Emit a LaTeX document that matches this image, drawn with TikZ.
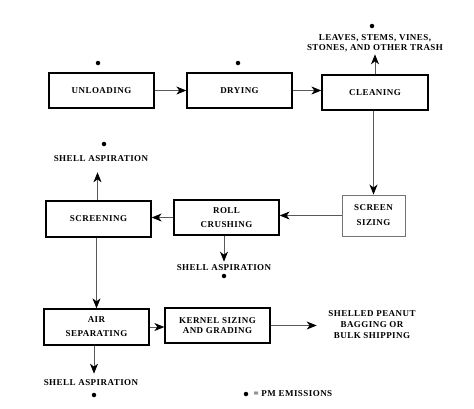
\documentclass[tikz,border=0pt]{standalone}
\usepackage{fontspec}
\setmainfont{Liberation Serif}
\newfontfamily\flowfont[LetterSpace=5]{Liberation Serif}
\usetikzlibrary{arrows.meta,positioning}
\tikzset{
  stepbox/.style={draw=black,line width=1.3pt,minimum width=105pt,minimum height=35pt,
    align=center,inner sep=1pt,font=\flowfont\fontsize{9}{13}\selectfont\bfseries},
  outtext/.style={align=center,inner sep=1pt,font=\flowfont\fontsize{9}{10}\selectfont\bfseries},
  pmdot/.style={circle,fill=black,inner sep=0pt,minimum size=4.5pt},
  flow/.style={draw=black!65,line width=0.8pt,-{Stealth[length=10pt,width=8pt,inset=3pt,black]}},
}
\begin{document}
\begin{tikzpicture}[x=1pt,y=-1pt]
  \useasboundingbox (0,0) rectangle (474,408);
  % process boxes
  \node[stepbox] (unload) at (101.5,90.5) {UNLOADING};
  \node[stepbox] (dry) at (239.5,90.5) {DRYING};
  \node[stepbox,minimum width=106pt] (clean) at (375,92.5) {CLEANING};
  \node[stepbox,draw=black!55,line width=0.9pt,minimum width=63pt,minimum height=41pt,
    font=\flowfont\fontsize{9}{15}\selectfont\bfseries] (sizing) at (373.5,215.5) {SCREEN\\SIZING};
  \node[stepbox,font=\flowfont\fontsize{9}{14}\selectfont\bfseries] (crush) at (226.5,217.5) {ROLL\\CRUSHING};
  \node[stepbox,minimum height=36pt] (screen) at (98.5,219) {SCREENING};
  \node[stepbox,minimum height=36pt,font=\flowfont\fontsize{9}{14}\selectfont\bfseries] (airsep) at (96.5,327) {AIR\\SEPARATING};
  \node[stepbox,font=\flowfont\fontsize{9}{10.5}\selectfont\bfseries] (kernel) at (217.5,325.5) {KERNEL SIZING\\AND GRADING};
  % outputs
  \node[outtext] (trash) at (375,43) {LEAVES, STEMS, VINES,\\STONES, AND OTHER TRASH};
  \node[outtext] (asp1) at (101,159) {SHELL ASPIRATION};
  \node[outtext] (asp2) at (224,268) {SHELL ASPIRATION};
  \node[outtext] (asp3) at (91,383) {SHELL ASPIRATION};
  \node[outtext,font=\flowfont\fontsize{9}{11}\selectfont\bfseries] (shelled) at (372,325) {SHELLED PEANUT\\BAGGING OR\\BULK SHIPPING};
  % emission points
  \node[pmdot] (d1) at (98,63) {};
  \node[pmdot] (d2) at (238,63) {};
  \node[pmdot] (d3) at (372,26) {};
  \node[pmdot] (d4) at (104,144) {};
  \node[pmdot] (d5) at (224,276) {};
  \node[pmdot] (d6) at (94,395) {};
  \node[pmdot] (key) at (246,394) {};
  \node[outtext,right=4pt of key] (keytext) {= PM EMISSIONS};
  % connectors
  \draw[flow] (unload) -- (dry);
  \draw[flow] (dry.east) -- (dry.east -| clean.west);
  \draw[flow] (clean.north) -- ++(0,-20);
  \draw[flow] (clean.south -| sizing.north) -- (sizing.north);
  \draw[flow] (sizing.west) -- (sizing.west -| crush.east);
  \draw[flow] (crush.west) -- (crush.west -| screen.east);
  \draw[flow] (screen.north) ++(-1,0) -- ++(0,-28);
  \draw[flow] (crush.south -| asp2) -- ++(0,26);
  \draw[flow] (screen.south -| airsep.north) -- (airsep.north);
  \draw[flow] (airsep.east) -- (airsep.east -| kernel.west);
  \draw[flow] (kernel.east) -- ++(46,0);
  \draw[flow] (airsep.south -| asp3.north) ++(3,0) -- ++(0,28);
\end{tikzpicture}
\end{document}
